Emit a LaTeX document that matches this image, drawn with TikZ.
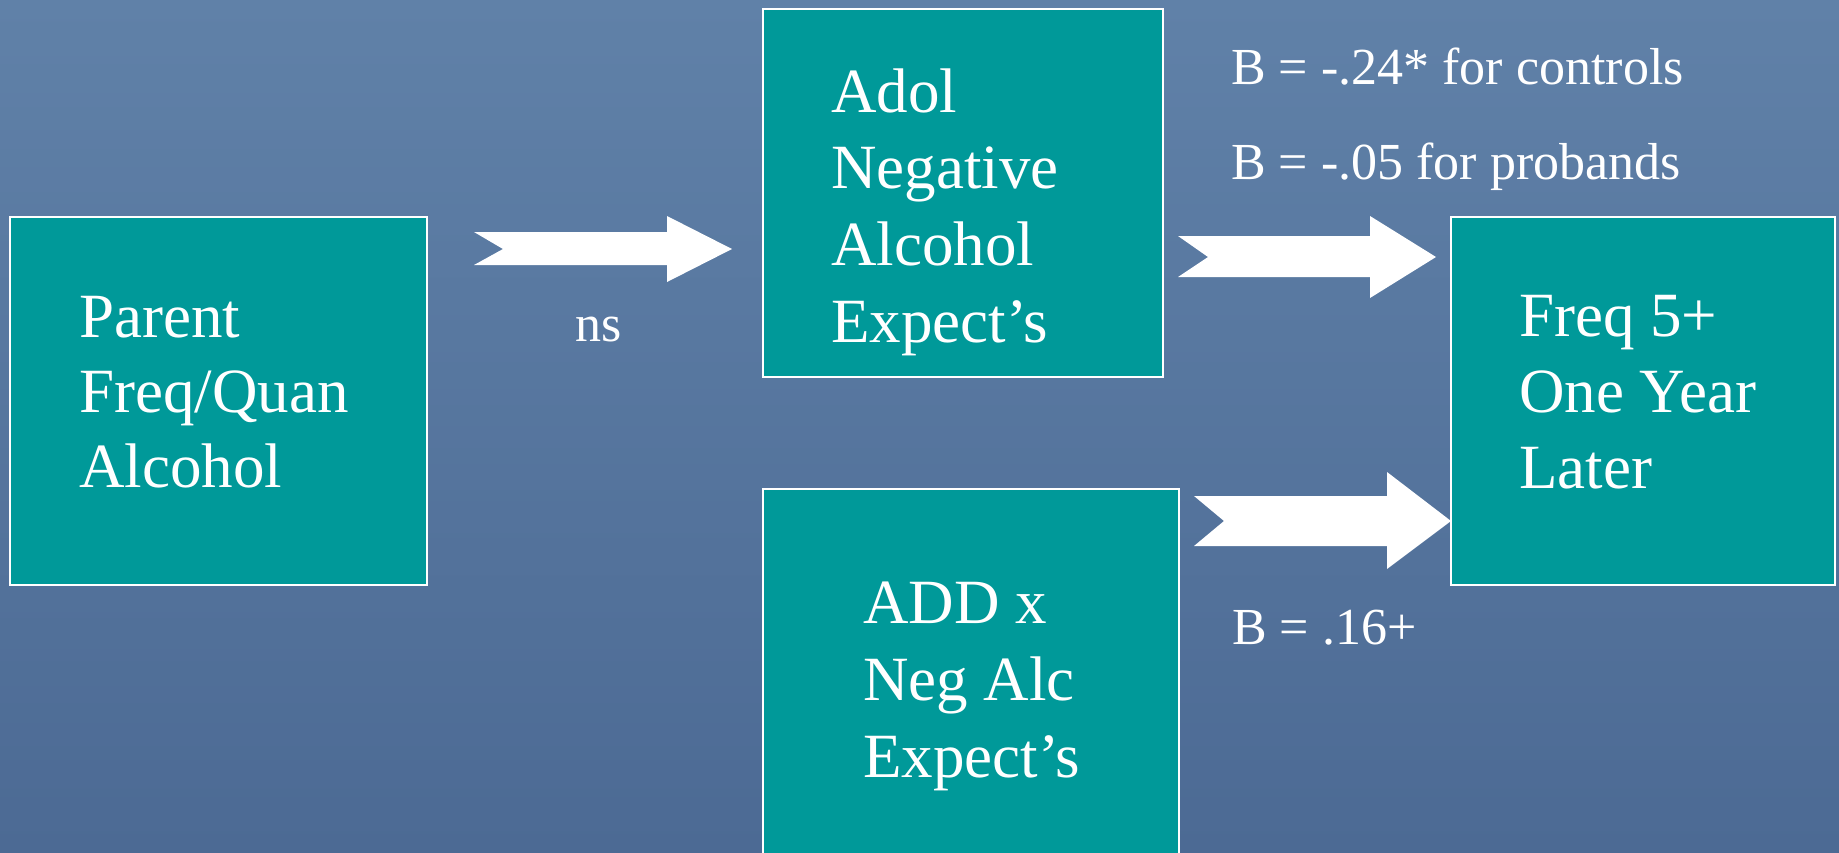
\documentclass[tikz,border=0pt]{standalone}
\usepackage{fontspec}
\setmainfont{Liberation Serif}
\definecolor{bgtop}{RGB}{96,129,168}
\definecolor{bgbot}{RGB}{76,106,148}
\definecolor{teal}{RGB}{0,153,153}
\begin{document}
\begin{tikzpicture}[x=1pt,y=-1pt,
  box/.style={draw=white,line width=1.6pt,fill=teal},
  big/.style={text=white,inner sep=0pt,anchor=base west,font=\fontsize{63}{76}\selectfont},
  small/.style={text=white,inner sep=0pt,anchor=base west,font=\fontsize{52}{62}\selectfont},
  blockarrow/.style={fill=white,draw=none}]
\useasboundingbox (0,0) rectangle (1839,852);
\clip (0,0) rectangle (1839,852);
\shade[top color=bgtop,bottom color=bgbot] (0,0) rectangle (1839,852);
% boxes
\draw[box] (10,217) rectangle (427,585);
\coordinate (parent) at (218,401);
\draw[box] (763,9) rectangle (1163,377);
\coordinate (adol) at (963,193);
\draw[box] (1451,217) rectangle (1835,585);
\coordinate (freq) at (1643,401);
\draw[box] (763,489) rectangle (1179,880);
\coordinate (add) at (971,680);
% box texts
\node[big] (p1) at (79,337) {Parent};
\node[big] (p2) at (79,412) {Freq/Quan};
\node[big] (p3) at (79,487) {Alcohol};
\node[big] (a1) at (831,112) {Adol};
\node[big] (a2) at (831,188) {Negative};
\node[big] (a3) at (831,265) {Alcohol};
\node[big] (a4) at (831,342) {Expect’s};
\node[big] (f1) at (1519,336) {Freq 5+};
\node[big] (f2) at (1519,412) {One Year};
\node[big] (f3) at (1519,488) {Later};
\node[big] (d1) at (863,623) {ADD x};
\node[big] (d2) at (863,700) {Neg Alc};
\node[big] (d3) at (863,777) {Expect’s};
% block arrows
\fill[blockarrow] (474,232) -- (667,232) -- (667,216) -- (732,249) -- (667,282) -- (667,265) -- (474,265) -- (503,249) -- cycle;
\fill[blockarrow] (1178,236) -- (1370,236) -- (1370,216) -- (1436,257) -- (1370,298) -- (1370,277) -- (1178,277) -- (1208,257) -- cycle;
\fill[blockarrow] (1194,496) -- (1387,496) -- (1387,472) -- (1451,521) -- (1387,569) -- (1387,546) -- (1194,546) -- (1224,521) -- cycle;
% labels
\node[small] (ns) at (575,341) {ns};
\node[small] (b1) at (1231,84) {B = -.24* for controls};
\node[small] (b2) at (1231,179) {B = -.05 for probands};
\node[small] (b3) at (1232,644) {B = .16+};
\end{tikzpicture}
\end{document}
